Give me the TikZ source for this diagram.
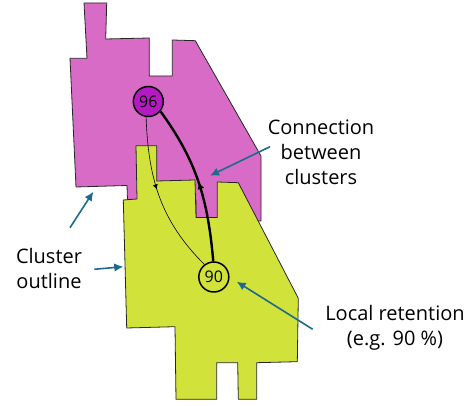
\documentclass[tikz,border=0pt]{standalone}
\usepackage{fontspec}
\setmainfont{Open Sans}
\usetikzlibrary{arrows.meta,decorations.markings}
\definecolor{clustmag}{HTML}{D76BC6}
\definecolor{clustyel}{HTML}{D1E33B}
\definecolor{sitemag}{HTML}{B519C2}
\definecolor{arrowteal}{HTML}{1D6A8C}
\begin{document}
\begin{tikzpicture}[x=1pt, y=1pt,
  every node/.style={font=\fontsize{20}{24.8}\selectfont, align=center},
  outline/.style={draw=black!85, line width=0.8pt},
  site/.style={circle, draw, line width=1.5pt, minimum size=30pt, inner sep=0pt, font=\fontsize{16}{19}\selectfont},
  pointer/.style={draw=arrowteal, line width=1.6pt, -{Latex[length=9pt,width=8.5pt]}},
  flowmark/.style 2 args={postaction={decorate}, decoration={markings,
    mark=at position #1 with {\arrow{Latex[length=#2,width=#2]}}}}]
  \useasboundingbox (0,0) rectangle (471,406);
  % clusters
  \draw[outline, fill=clustmag] (84,403) -- (106.7,403) -- (105.7,367) -- (149.3,368) -- (149.3,330)
    -- (172.3,330) -- (172.3,366) -- (195.3,365.3) -- (261,250) -- (261,185) -- (196,187) -- (196,206)
    -- (127.5,206) -- (127,220.5) -- (76,219) -- (70,347.7) -- (87,347.7) -- cycle;
  \draw[outline, fill=clustyel] (123.3,206) -- (137,207) -- (136,260.3) -- (156.7,260.3) -- (156.7,225)
    -- (195,226) -- (196,188.5) -- (217.3,188.5) -- (217.3,224) -- (238.3,223.3) -- (298.3,107.7)
    -- (297.3,44.3) -- (256.7,43.3) -- (256.7,6.7) -- (238.3,6.7) -- (237.7,43.3) -- (216.7,43.3)
    -- (216.7,6.7) -- (176,6.7) -- (175,79.3) -- (126.7,78) -- cycle;
  % sites
  \node[site, fill=sitemag] (n96) at (148.3,304.5) {96};
  \node[site, fill=clustyel] (n90) at (213.8,129) {90};
  \draw[line width=2.4pt, flowmark={0.5}{7pt}] (n90.92) to[out=95, in=-54] (n96.-39);
  \draw[line width=0.6pt, flowmark={0.45}{5pt}] (n96.-98) to[out=-88, in=135] (n90.127);
  % labels
  \node (lconn) at (321,254) {Connection\\between\\clusters};
  \node (lclust) at (49,137.3) {Cluster\\outline};
  \node (lret) at (395,78) {Local retention\\(e.g. 90 \%)};
  \coordinate (conntail) at (270,259.3); \coordinate (conntip) at (210,230.3);
  \coordinate (clusttailA) at (70,178.3); \coordinate (clusttipA) at (93.3,214.3);
  \coordinate (clusttailB) at (94.3,136.7); \coordinate (clusttipB) at (123.3,139.3);
  \coordinate (rettail) at (312.7,76.7); \coordinate (rettip) at (236.7,124.3);
  \foreach \a/\b in {conntail/conntip,clusttailA/clusttipA,clusttailB/clusttipB,rettail/rettip}
    \draw[pointer] (\a) -- (\b);
\end{tikzpicture}
\end{document}
